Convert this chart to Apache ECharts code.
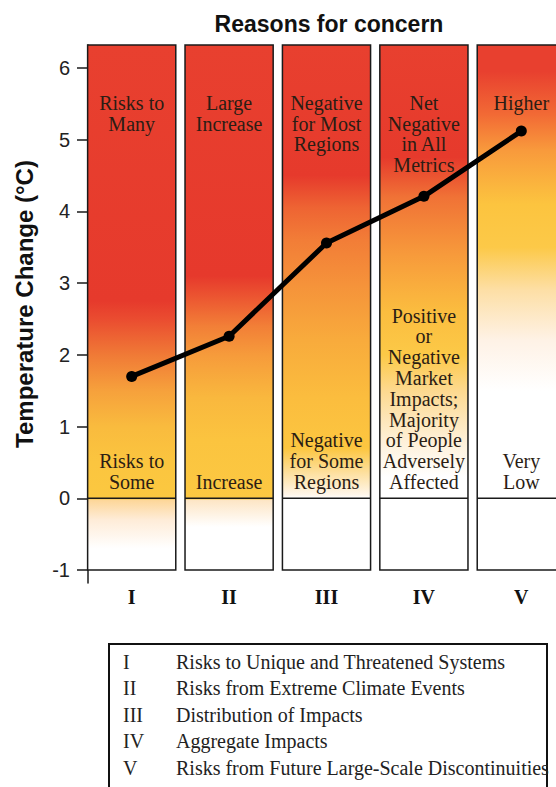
<!DOCTYPE html>
<html>
<head>
<meta charset="utf-8">
<script src="https://cdn.jsdelivr.net/npm/echarts@6/dist/echarts.min.js"></script>
<style>html,body{margin:0;padding:0;background:#fff}#c{width:556px;height:787px}</style>
</head>
<body>
<div id="c"></div>
<script>
// ---- data ----
const categories = ['I', 'II', 'III', 'IV', 'V'];
const temperature = [1.7, 2.26, 3.56, 4.21, 5.12];
const columnRange = [-1, 6.32];
const yTicks = [-1, 0, 1, 2, 3, 4, 5, 6];
const topLabels = ['Risks to\nMany', 'Large\nIncrease', 'Negative\nfor Most\nRegions', 'Net\nNegative\nin All\nMetrics', 'Higher'];
const bottomLabels = ['Risks to\nSome', 'Increase', 'Negative\nfor Some\nRegions',
  'Positive\nor\nNegative\nMarket\nImpacts;\nMajority\nof People\nAdversely\nAffected', 'Very\nLow'];
const legendNumerals = ['I', 'II', 'III', 'IV', 'V'];
const legendNames = ['Risks to Unique and Threatened Systems', 'Risks from Extreme Climate Events',
  'Distribution of Impacts', 'Aggregate Impacts', 'Risks from Future Large-Scale Discontinuities'];

// ---- styles: gradient stops per column, [temperature, colour] ----
const gradients = [
  [[6.32,'#e8402f'],[2.75,'#e63a2c'],[2.5,'#ea4c30'],[2.0,'#f07a36'],[1.5,'#f6a13c'],[1.0,'#f9bb3e'],[0.5,'#fbc53f'],[0.0,'#fbc840'],[-0.03,'#fdd79a'],[-0.3,'#feecd8'],[-0.7,'#ffffff'],[-1,'#ffffff']],
  [[6.32,'#e8402f'],[3.1,'#e6392c'],[2.8,'#ec5631'],[2.4,'#f27f37'],[2.0,'#f69b3b'],[1.4,'#f9b83e'],[0.8,'#fbc43f'],[0.0,'#fcc842'],[-0.03,'#fde6c6'],[-0.4,'#ffffff'],[-1,'#ffffff']],
  [[6.32,'#e8402f'],[4.5,'#e63a2c'],[4.05,'#ee6433'],[3.6,'#f27d37'],[3.0,'#f5923a'],[2.2,'#f8ab3c'],[1.4,'#fbbd3e'],[0.7,'#fcc640'],[0.35,'#fde0a0'],[0.05,'#fff6ea'],[0,'#ffffff'],[-1,'#ffffff']],
  [[6.32,'#e8402f'],[4.75,'#e63a2c'],[4.2,'#f07236'],[3.4,'#f79a3b'],[2.6,'#fbbd3f'],[2.0,'#fcc947'],[1.5,'#fdd98f'],[0.8,'#fef0d8'],[0.3,'#ffffff'],[-1,'#ffffff']],
  [[6.32,'#e8402f'],[5.95,'#e8402f'],[5.35,'#f26a35'],[4.85,'#f89a3c'],[4.1,'#fcc43f'],[3.5,'#fcc948'],[2.9,'#fddfa6'],[2.2,'#fef2e6'],[1.5,'#ffffff'],[-1,'#ffffff']]
];

const serif = '"Liberation Serif","Times New Roman",serif';
const sans = '"Liberation Sans",Arial,Helvetica,sans-serif';
const textColor = '#2b1d14';

const chart = echarts.init(document.getElementById('c'), null, {renderer: 'svg'});

const columnData = categories.map((c, i) => [i, columnRange[0], columnRange[1]]);

function renderColumn(params, api) {
  const i = api.value(0);
  const lo = api.coord([i, api.value(1)]);
  const hi = api.coord([i, api.value(2)]);
  const zero = api.coord([i, 0]);
  const w = api.size([1, 0])[0] * 0.905;
  const x = lo[0] - w / 2;
  const span = columnRange[1] - columnRange[0];
  const stops = gradients[i].map(s => ({offset: (columnRange[1] - s[0]) / span, color: s[1]}));
  return {
    type: 'group',
    children: [
      {type: 'rect', shape: {x: x, y: hi[1], width: w, height: lo[1] - hi[1]},
       style: {fill: new echarts.graphic.LinearGradient(0, 0, 0, 1, stops), stroke: '#1a1a1a', lineWidth: 1.5}},
      {type: 'line', shape: {x1: x, y1: zero[1], x2: x + w, y2: zero[1]},
       style: {stroke: '#1a1a1a', lineWidth: 1.5}},
      {type: 'text', x: lo[0], y: hi[1] + 48,
       style: {text: topLabels[i], fill: textColor, fontSize: 20, fontFamily: serif, align: 'center', verticalAlign: 'top', lineHeight: 20.5}},
      {type: 'text', x: lo[0], y: zero[1] - 6,
       style: {text: bottomLabels[i], fill: textColor, fontSize: 20, fontFamily: serif, align: 'center', verticalAlign: 'bottom', lineHeight: 20.8}}
    ]
  };
}

const graphics = [
  {type: 'rect', left: 108, top: 643, shape: {width: 438, height: 170},
   style: {fill: '#fff', stroke: '#111', lineWidth: 2}}
];
legendNumerals.forEach((n, i) => {
  graphics.push({type: 'text', left: 123, top: 652 + i * 26.4,
    style: {text: n, fill: '#222', fontSize: 20, fontFamily: serif}});
  graphics.push({type: 'text', left: 176, top: 652 + i * 26.4,
    style: {text: legendNames[i], fill: '#222', fontSize: 20, fontFamily: serif}});
});

chart.setOption({
  animation: false,
  backgroundColor: '#fff',
  title: {
    text: 'Reasons for concern', left: 324, top: 7, textAlign: 'center',
    textStyle: {fontSize: 23, fontWeight: 'bold', fontFamily: sans, color: '#111'}
  },
  grid: {left: 83, right: -14, top: 45, bottom: 204, containLabel: false, outerBoundsMode: 'none'},
  xAxis: {
    type: 'category', data: categories, boundaryGap: true,
    axisLine: {show: false}, axisTick: {show: false}, splitLine: {show: false},
    axisLabel: {margin: 4, fontSize: 20, fontWeight: 'bold', fontFamily: serif, color: '#111'}
  },
  yAxis: {
    type: 'value', min: -1.18, max: 6.32, offset: -5,
    name: 'Temperature Change (°C)', nameLocation: 'middle', nameGap: 52,
    nameTextStyle: {fontSize: 24, fontWeight: 'bold', fontFamily: sans, color: '#111', padding: [0, 0, 0, 20]},
    axisLine: {show: true, lineStyle: {color: '#1a1a1a', width: 1.5}},
    axisTick: {show: true, length: 11, customValues: yTicks, lineStyle: {color: '#1a1a1a', width: 1.5}},
    axisLabel: {customValues: yTicks, margin: 18, fontSize: 20, fontFamily: sans, color: '#222'},
    splitLine: {show: false}
  },
  series: [
    {type: 'custom', data: columnData, renderItem: renderColumn, z: 1, silent: true},
    {type: 'line', data: temperature, z: 5, symbol: 'circle', symbolSize: 11,
     lineStyle: {color: '#000', width: 5}, itemStyle: {color: '#000'}}
  ],
  graphic: graphics
});
</script>
</body>
</html>
